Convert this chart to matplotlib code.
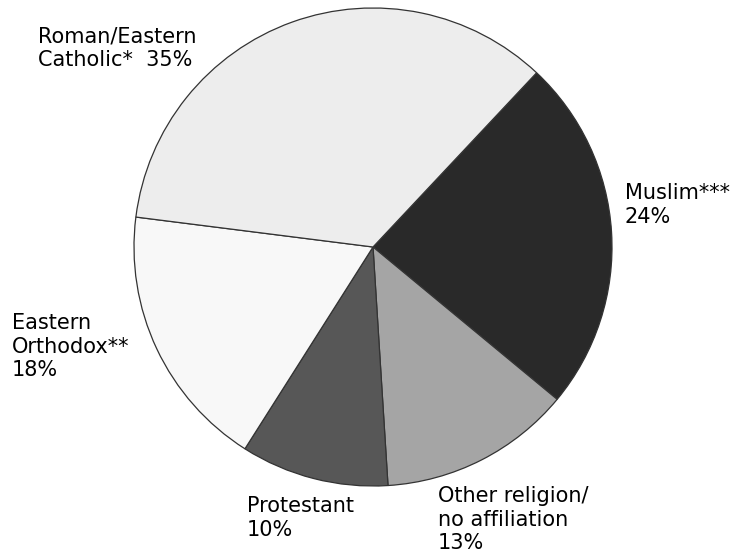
#!/usr/bin/env python3
"""Religious affiliation pie chart (grayscale)."""

import matplotlib

matplotlib.use("Agg")
import matplotlib.pyplot as plt

LABELS = [
    "Muslim***\n24%",
    "Other religion/\nno affiliation\n13%",
    "Protestant\n10%",
    "Eastern\nOrthodox**\n18%",
    "Roman/Eastern\nCatholic*  35%",
]
SHARES = [24, 13, 10, 18, 35]
COLORS = ["#292929", "#a5a5a5", "#575757", "#f8f8f8", "#ededed"]

# top-left corner of each label, in pixels from the top-left of the figure
LABEL_POS = [(625, 183), (438, 486), (247, 496), (12, 313), (38, 26)]

W, H = 740, 556


def main() -> None:
    fig = plt.figure(figsize=(W / 100, H / 100), dpi=100)
    cx, cy, r = 373, 247, 239
    ax = fig.add_axes([(cx - r) / W, (H - cy - r) / H, 2 * r / W, 2 * r / H])
    ax.pie(
        SHARES,
        colors=COLORS,
        startangle=46.8,
        counterclock=False,
        radius=1.0,
        wedgeprops=dict(edgecolor="#333333", linewidth=0.9),
    )
    ax.set_xlim(-1, 1)
    ax.set_ylim(-1, 1)
    ax.set_aspect("equal")
    ax.axis("off")

    for text, (px, py) in zip(LABELS, LABEL_POS):
        fig.text(
            px / W,
            1 - py / H,
            text,
            ha="left",
            va="top",
            fontsize=15,
            linespacing=1.22,
            color="#000000",
        )

    fig.savefig("out.png", dpi=100)


if __name__ == "__main__":
    main()
